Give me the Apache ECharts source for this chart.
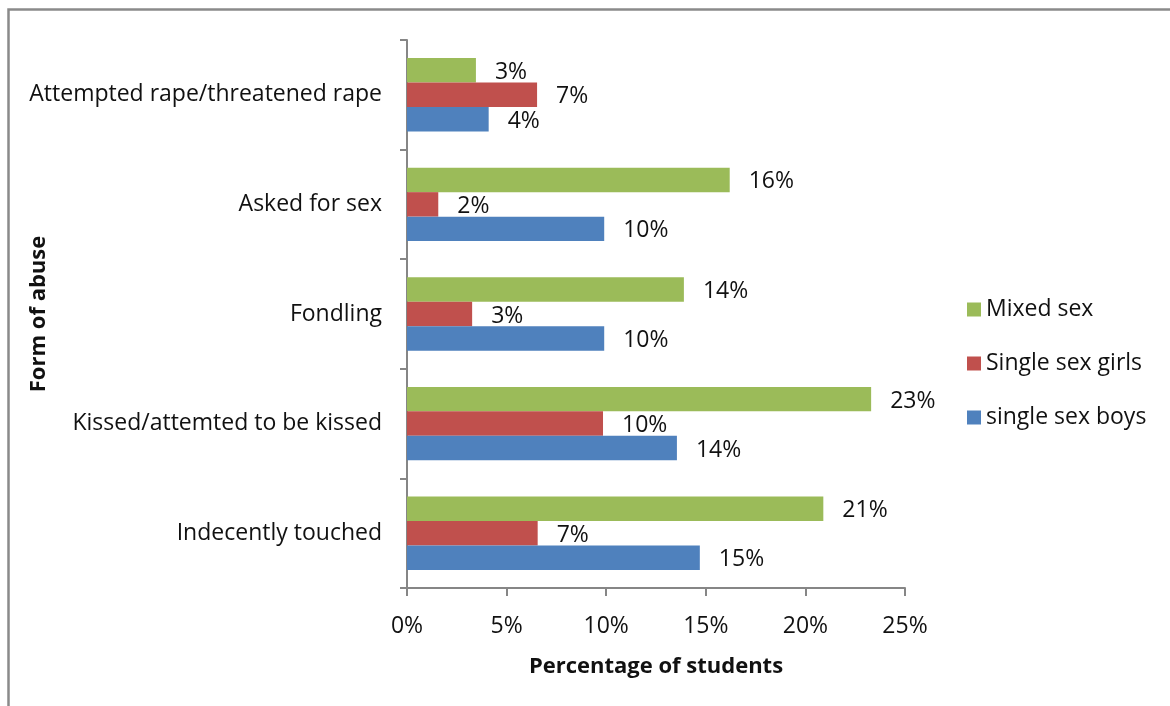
<!DOCTYPE html>
<html>
<head>
<meta charset="utf-8">
<script src="https://cdn.jsdelivr.net/npm/echarts@6/dist/echarts.min.js"></script>
<style>
  html, body { margin: 0; padding: 0; background: #ffffff; }
  #chart { width: 1170px; height: 706px; }
</style>
</head>
<body>
<div id="chart"></div>
<script>
// Forms of abuse reported, by school type (percentage of students)
const categories = [
  'Attempted rape/threatened rape',
  'Asked for sex',
  'Fondling',
  'Kissed/attemted to be kissed',
  'Indecently touched'
];
const seriesNames = ['Mixed sex', 'Single sex girls', 'single sex boys'];
const mixedSex       = [3.46, 16.2, 13.9, 23.3, 20.9];
const singleSexGirls = [6.53, 1.57, 3.27, 9.84, 6.56];
const singleSexBoys  = [4.1, 9.9, 9.9, 13.55, 14.7];
const xTicks = { min: 0, max: 25, interval: 5 };

const colors = ['#9BBB59', '#C0504D', '#4F81BD'];
const FONT = '"Open Sans"';
const FS = 23;
const FS_TITLE = 22;
const AXIS_GRAY = '#868686';

const chart = echarts.init(document.getElementById('chart'), null, { renderer: 'canvas' });

function barSeries(name, data, color) {
  return {
    name: name,
    type: 'bar',
    data: data,
    barGap: '0%',
    barCategoryGap: '33%',
    itemStyle: { color: color },
    label: {
      show: true,
      position: 'right',
      distance: 19,
      offset: [0, 2],
      fontFamily: FONT,
      fontSize: FS,
      color: '#111',
      formatter: p => Math.round(p.value) + '%'
    }
  };
}

chart.setOption({
  animation: false,
  textStyle: { fontFamily: FONT },
  color: colors,
  grid: { left: 407, right: 265, top: 40, bottom: 118, containLabel: false },
  graphic: [{
    type: 'rect',
    shape: { x: 8.5, y: 9.5, width: 1300, height: 900 },
    style: { fill: 'none', stroke: '#8a8a8a', lineWidth: 2.5 },
    silent: true
  }],
  legend: {
    orient: 'vertical',
    left: 962,
    top: 290,
    itemWidth: 14,
    itemHeight: 14,
    itemGap: 25,
    icon: 'rect',
    data: seriesNames,
    textStyle: { fontFamily: FONT, fontSize: FS, color: '#111', lineHeight: 29 }
  },
  xAxis: {
    type: 'value',
    min: xTicks.min,
    max: xTicks.max,
    interval: xTicks.interval,
    name: 'Percentage of students',
    nameLocation: 'middle',
    nameGap: 68,
    nameMoveOverlap: false,
    nameTextStyle: { fontFamily: FONT, fontSize: FS_TITLE, fontWeight: 'bold', color: '#111' },
    axisLine: { show: true, lineStyle: { color: AXIS_GRAY, width: 2 } },
    axisTick: { show: true, length: 8, lineStyle: { color: AXIS_GRAY, width: 2 } },
    axisLabel: { fontFamily: FONT, fontSize: FS, color: '#111', margin: 27, formatter: '{value}%' },
    splitLine: { show: false }
  },
  yAxis: {
    type: 'category',
    inverse: true,
    data: categories,
    name: 'Form of abuse',
    nameLocation: 'middle',
    nameRotate: 90,
    nameGap: 357,
    nameMoveOverlap: false,
    nameTextStyle: { fontFamily: FONT, fontSize: FS_TITLE, fontWeight: 'bold', color: '#111' },
    axisLine: { show: true, lineStyle: { color: AXIS_GRAY, width: 2 } },
    axisTick: { show: true, length: 7, alignWithLabel: false, lineStyle: { color: AXIS_GRAY, width: 2 } },
    axisLabel: { fontFamily: FONT, fontSize: FS, color: '#111', margin: 25 },
    splitLine: { show: false }
  },
  series: [
    barSeries(seriesNames[0], mixedSex, colors[0]),
    barSeries(seriesNames[1], singleSexGirls, colors[1]),
    barSeries(seriesNames[2], singleSexBoys, colors[2])
  ]
});
</script>
</body>
</html>
